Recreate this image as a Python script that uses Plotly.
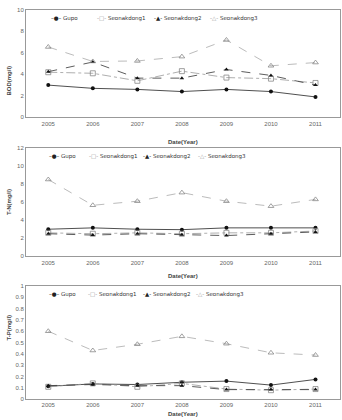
import plotly.graph_objects as go

years = ["2005", "2006", "2007", "2008", "2009", "2010", "2011"]
series_names = ["Gupo", "Seonakdong1", "Seonakdong2", "Seonakdong3"]

bod_gupo = [3.0, 2.7, 2.6, 2.4, 2.6, 2.4, 1.9]
bod_s1 = [4.2, 4.1, 3.4, 4.3, 3.7, 3.6, 3.2]
bod_s2 = [4.25, 5.15, 3.65, 3.65, 4.45, 3.9, 3.0]
bod_s3 = [6.55, 5.2, 5.25, 5.65, 7.2, 4.8, 5.1]

tn_gupo = [3.0, 3.15, 3.0, 2.95, 3.15, 3.15, 3.15]
tn_s1 = [2.6, 2.5, 2.6, 2.5, 2.6, 2.6, 2.8]
tn_s2 = [2.5, 2.35, 2.5, 2.4, 2.3, 2.5, 2.7]
tn_s3 = [8.5, 5.65, 6.1, 7.05, 6.1, 5.55, 6.3]

tp_gupo = [0.115, 0.135, 0.13, 0.15, 0.16, 0.125, 0.175]
tp_s1 = [0.11, 0.14, 0.11, 0.14, 0.09, 0.08, 0.09]
tp_s2 = [0.12, 0.13, 0.12, 0.12, 0.085, 0.085, 0.085]
tp_s3 = [0.6, 0.43, 0.485, 0.555, 0.49, 0.41, 0.39]

W, H = 342, 420

panels = [
    dict(data=[bod_gupo, bod_s1, bod_s2, bod_s3], ytitle="BOD(mg/l)", yrange=[0, 10], dtick=2,
         top=7, bottom=116, legx=[49, 95, 152, 208]),
    dict(data=[tn_gupo, tn_s1, tn_s2, tn_s3], ytitle="T-N(mg/l)", yrange=[0, 12], dtick=2,
         top=147, bottom=257, legx=[47, 87, 141, 196]),
    dict(data=[tp_gupo, tp_s1, tp_s2, tp_s3], ytitle="T-P(mg/l)", yrange=[0, 1], dtick=0.1,
         top=287, bottom=402, legx=[47, 86, 141, 194]),
]

styles = [
    dict(line=dict(color="#222222", width=0.8, dash="solid"),
         marker=dict(symbol="circle", size=4, color="#111111")),
    dict(line=dict(color="#999999", width=0.8, dash="dashdot"),
         marker=dict(symbol="square-open", size=5, color="#888888", line=dict(width=0.8))),
    dict(line=dict(color="#333333", width=0.8, dash="dash"),
         marker=dict(symbol="triangle-up", size=4, color="#111111")),
    dict(line=dict(color="#aaaaaa", width=0.8, dash="dash"),
         marker=dict(symbol="triangle-up-open", size=5, color="#888888", line=dict(width=0.8))),
]
legend_glyphs = [("#222222", "–●–"), ("#999999", "-□-"), ("#222222", "-▲-"), ("#999999", "-△-")]

fig = go.Figure()
xdom = [26 / W, 340 / W]
tickfont = dict(family="Liberation Sans", size=6, color="#666666")

for i, p in enumerate(panels):
    k = "" if i == 0 else str(i + 1)
    dom = [1 - p["bottom"] / H, 1 - p["top"] / H]
    for j, (vals, st) in enumerate(zip(p["data"], styles)):
        fig.add_trace(go.Scatter(
            x=list(range(len(years))), y=vals, name=series_names[j], mode="lines+markers",
            line=st["line"], marker=st["marker"], xaxis="x" + k, yaxis="y" + k,
            showlegend=False))
        col, g = legend_glyphs[j]
        fig.add_annotation(
            text='<span style="color:%s">%s</span> %s' % (col, g, series_names[j]),
            x=p["legx"][j] / W, xref="paper", xanchor="left",
            y=1 - (p["top"] + 9) / H, yref="paper", yanchor="middle", showarrow=False,
            font=dict(family="DejaVu Sans", size=5.5, color="#333333"))
    fig.layout["xaxis" + k] = dict(
        domain=xdom, anchor="y" + k, range=[-0.5, 6.55], tickmode="array",
        tickvals=list(range(len(years))), ticktext=years, showgrid=False, zeroline=False,
        showline=True, linecolor="#999999", linewidth=1, mirror=True, ticks="",
        tickfont=tickfont)
    fig.layout["yaxis" + k] = dict(
        domain=dom, anchor="x" + k, range=p["yrange"], dtick=p["dtick"], showgrid=False,
        zeroline=False, showline=True, linecolor="#999999", linewidth=1, mirror=True,
        ticks="", tickfont=tickfont)
    fig.add_annotation(text="<b>Date(Year)</b>", x=(xdom[0] + xdom[1]) / 2, xref="paper",
                       y=1 - (p["bottom"] + 20) / H, yref="paper", showarrow=False,
                       font=dict(family="Liberation Sans", size=6, color="#444444"))
    fig.add_annotation(text="<b>" + p["ytitle"] + "</b>", x=4 / W, xref="paper",
                       y=(dom[0] + dom[1]) / 2, yref="paper", showarrow=False,
                       textangle=-90, font=dict(family="Liberation Sans", size=6, color="#444444"))

fig.update_layout(width=W, height=H, margin=dict(l=0, r=0, t=0, b=0),
                  paper_bgcolor="white", plot_bgcolor="white", showlegend=False)
fig.write_html("out.html")
